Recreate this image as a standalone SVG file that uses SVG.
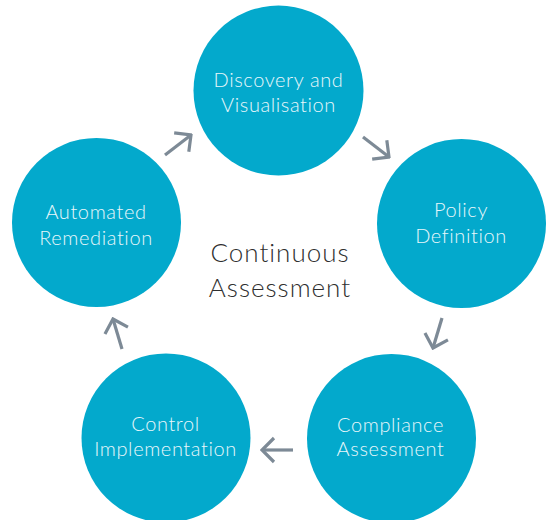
<svg xmlns="http://www.w3.org/2000/svg" width="553" height="520" viewBox="0 0 553 520">
  <style>
    .node circle { fill: #03a9cc; }
    .node text { fill: #e8f7fb; font-family: Lato, "Open Sans", "Liberation Sans", sans-serif; font-weight: 300; font-size: 20px; letter-spacing: 0.6px; text-anchor: middle; }
    .center { fill: #2f2f2f; font-family: Lato, "Open Sans", "Liberation Sans", sans-serif; font-weight: 300; font-size: 26px; letter-spacing: 1px; text-anchor: middle; }
    .conn path { fill: none; stroke: #7d8a96; stroke-width: 3.2; marker-end: url(#head); }
  </style>
  <defs>
    <marker id="head" markerUnits="userSpaceOnUse" viewBox="-14 -14 16 28" markerWidth="16" markerHeight="28" refX="0" refY="0" orient="auto">
      <path d="M-12,-12 L0,0 L-12,12" fill="none" stroke="#7d8a96" stroke-width="3.2"/>
    </marker>
  </defs>
  <rect width="553" height="520" fill="#ffffff"/>
  <g id="discovery" class="node">
    <circle cx="278.5" cy="90.5" r="85"/>
    <text x="278.5" y="87">Discovery and</text>
    <text x="278.5" y="112">Visualisation</text>
  </g>
  <g id="policy" class="node">
    <circle cx="461.5" cy="223.5" r="84.5"/>
    <text x="461" y="217">Policy</text>
    <text x="461" y="243">Definition</text>
  </g>
  <g id="compliance" class="node">
    <circle cx="391.5" cy="438.5" r="84.5"/>
    <text x="390.5" y="432">Compliance</text>
    <text x="390.5" y="456">Assessment</text>
  </g>
  <g id="control" class="node">
    <circle cx="166" cy="438" r="84.5"/>
    <text x="165.5" y="431">Control</text>
    <text x="165.5" y="456">Implementation</text>
  </g>
  <g id="remediation" class="node">
    <circle cx="96.5" cy="222.5" r="84.5"/>
    <text x="96" y="219">Automated</text>
    <text x="96" y="245">Remediation</text>
  </g>
  <g id="label">
    <text class="center" x="280" y="262">Continuous</text>
    <text class="center" x="280" y="297">Assessment</text>
  </g>
  <g id="connectors" class="conn">
    <path d="M165,155 L191,135"/>
    <path d="M363,137 L389,157"/>
    <path d="M442,318 L433,348"/>
    <path d="M293,450 L262,450"/>
    <path d="M122,349 L113,319"/>
  </g>
</svg>
